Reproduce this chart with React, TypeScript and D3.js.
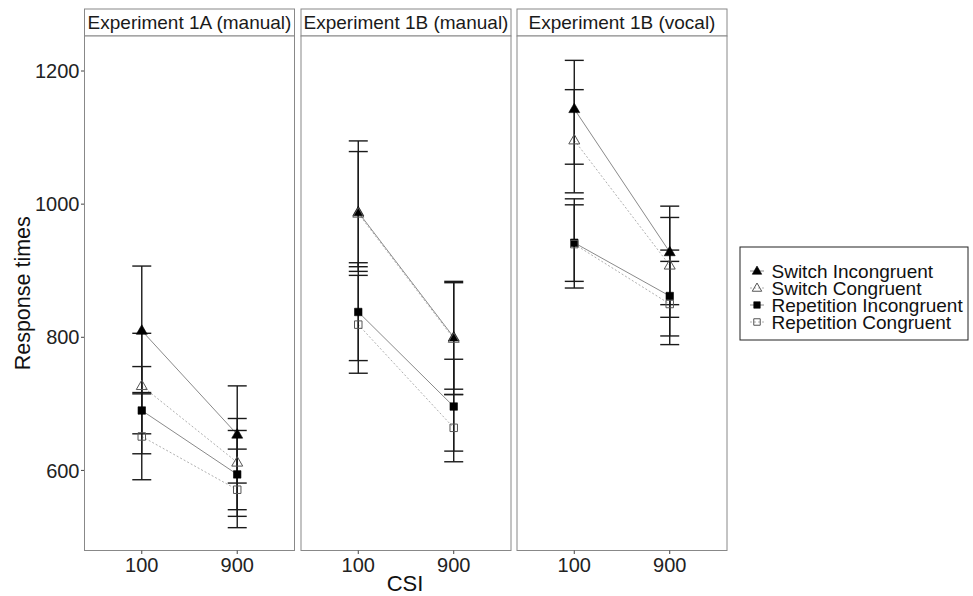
import React from "react";
import { scaleLinear, line, symbol, symbolTriangle, symbolSquare } from "d3";

// panels and x categories
const panels = ["Experiment 1A (manual)", "Experiment 1B (manual)", "Experiment 1B (vocal)"];
const csi = ["100", "900"];
const yTicks = [600, 800, 1000, 1200];

// one value per panel x csi: [1A-100, 1A-900, 1Bm-100, 1Bm-900, 1Bv-100, 1Bv-900]
const switchIncMean = [810, 654, 988, 800, 1143, 928];
const switchIncLo = [715, 581, 899, 714, 1060, 849];
const switchIncHi = [907, 727, 1095, 884, 1216, 997];

const switchConMean = [727, 612, 986, 798, 1096, 908];
const switchConLo = [655, 541, 906, 722, 1017, 830];
const switchConHi = [806, 678, 1079, 882, 1172, 980];

const repIncMean = [690, 594, 838, 696, 942, 862];
const repIncLo = [625, 531, 765, 629, 884, 802];
const repIncHi = [756, 660, 912, 767, 999, 931];

const repConMean = [651, 571, 819, 664, 940, 850];
const repConLo = [586, 514, 746, 613, 874, 789];
const repConHi = [717, 632, 893, 714, 1008, 914];

const series = [
  { name: "Switch Incongruent", mean: switchIncMean, lo: switchIncLo, hi: switchIncHi, shape: "tri", filled: true },
  { name: "Switch Congruent", mean: switchConMean, lo: switchConLo, hi: switchConHi, shape: "tri", filled: false },
  { name: "Repetition Incongruent", mean: repIncMean, lo: repIncLo, hi: repIncHi, shape: "sq", filled: true },
  { name: "Repetition Congruent", mean: repConMean, lo: repConLo, hi: repConHi, shape: "sq", filled: false },
];

const font = "'Liberation Sans', Arial, Helvetica, sans-serif";
const panelX = [84.5, 301, 517];
const panelW = 210;
const stripTop = 9;
const top = 36;
const bottom = 550.5;

const y = scaleLinear().domain([479.7, 1252.6]).range([bottom, top]);

function Marker({ shape, filled, x, yy, small }: any) {
  const k = small ? 0.75 : 1;
  const s = shape === "tri" ? symbol(symbolTriangle, 52 * k)() : symbol(symbolSquare, 56 * k)();
  return (
    <path
      d={s as string}
      transform={`translate(${x},${yy + (shape === "tri" ? 0.5 : 0)})`}
      fill={filled ? "#000" : "none"}
      stroke={filled ? "#000" : "#555"}
      strokeWidth={filled ? 0.6 : 1}
    />
  );
}

export default function App() {
  const ln = line<[number, number]>();
  return (
    <svg width={973} height={596} style={{ position: "absolute", left: 0, top: 0, background: "#fff" }} fontFamily={font}>
      {/* y axis */}
      {yTicks.map((t) => (
        <g key={t}>
          <line x1={81} x2={84.5} y1={y(t)} y2={y(t)} stroke="#444" strokeWidth={1} />
          <text x={79.5} y={y(t)} dy="0.36em" textAnchor="end" fontSize={20} fill="#222">{t}</text>
        </g>
      ))}
      <text transform={`translate(30,${(top + bottom) / 2}) rotate(-90)`} textAnchor="middle" fontSize={21.5} fill="#111">
        Response times
      </text>

      {panels.map((p, pi) => {
        const x0 = panelX[pi];
        const x = scaleLinear().domain([0.4, 2.6]).range([x0, x0 + panelW]);
        return (
          <g key={p}>
            <rect x={x0} y={stripTop} width={panelW} height={top - stripTop} fill="#fff" stroke="#888" strokeWidth={1} />
            <text x={x0 + panelW / 2} y={(stripTop + top) / 2} dy="0.36em" textAnchor="middle" fontSize={19} fill="#1a1a1a">{p}</text>
            <rect x={x0} y={top} width={panelW} height={bottom - top} fill="#fff" stroke="#888" strokeWidth={1} />
            {csi.map((c, ci) => (
              <g key={c}>
                <line x1={x(ci + 1)} x2={x(ci + 1)} y1={bottom} y2={bottom + 3.5} stroke="#444" />
                <text x={x(ci + 1)} y={bottom + 14} dy="0.36em" textAnchor="middle" fontSize={20} fill="#222">{c}</text>
              </g>
            ))}
            {/* connecting lines */}
            {series.map((s) => (
              <path
                key={s.name}
                d={ln(csi.map((_, ci) => [x(ci + 1), y(s.mean[pi * 2 + ci])] as [number, number])) as string}
                fill="none"
                stroke={s.filled ? "#8a8a8a" : "#b0b0b0"}
                strokeWidth={1}
                strokeDasharray={s.filled ? undefined : "2,2"}
              />
            ))}
            {/* error bars */}
            {series.map((s) =>
              csi.map((_, ci) => {
                const xc = x(ci + 1);
                const k = pi * 2 + ci;
                return (
                  <g key={s.name + ci} stroke="#1a1a1a" strokeWidth={1.4}>
                    <line x1={xc} x2={xc} y1={y(s.lo[k])} y2={y(s.hi[k])} />
                    <line x1={xc - 9.5} x2={xc + 9.5} y1={y(s.lo[k])} y2={y(s.lo[k])} />
                    <line x1={xc - 9.5} x2={xc + 9.5} y1={y(s.hi[k])} y2={y(s.hi[k])} />
                  </g>
                );
              })
            )}
            {/* points */}
            {series.map((s) =>
              csi.map((_, ci) => (
                <Marker key={s.name + ci} shape={s.shape} filled={s.filled} x={x(ci + 1)} yy={y(s.mean[pi * 2 + ci])} />
              ))
            )}
          </g>
        );
      })}

      <text x={405} y={583} dy="0.36em" textAnchor="middle" fontSize={22} fill="#111">CSI</text>

      {/* legend */}
      <rect x={740} y={247} width={228} height={93} fill="#fff" stroke="#222" strokeWidth={1} />
      {series.map((s, i) => {
        const ly = 271 + i * 17;
        return (
          <g key={s.name}>
            <line x1={750} x2={764} y1={ly} y2={ly} stroke={s.filled ? "#8a8a8a" : "#b0b0b0"} strokeDasharray={s.filled ? undefined : "2,2"} />
            <Marker shape={s.shape} filled={s.filled} x={757} yy={ly} small />
            <text x={771.5} y={ly} dy="0.36em" fontSize={19} fill="#111">{s.name}</text>
          </g>
        );
      })}
    </svg>
  );
}
